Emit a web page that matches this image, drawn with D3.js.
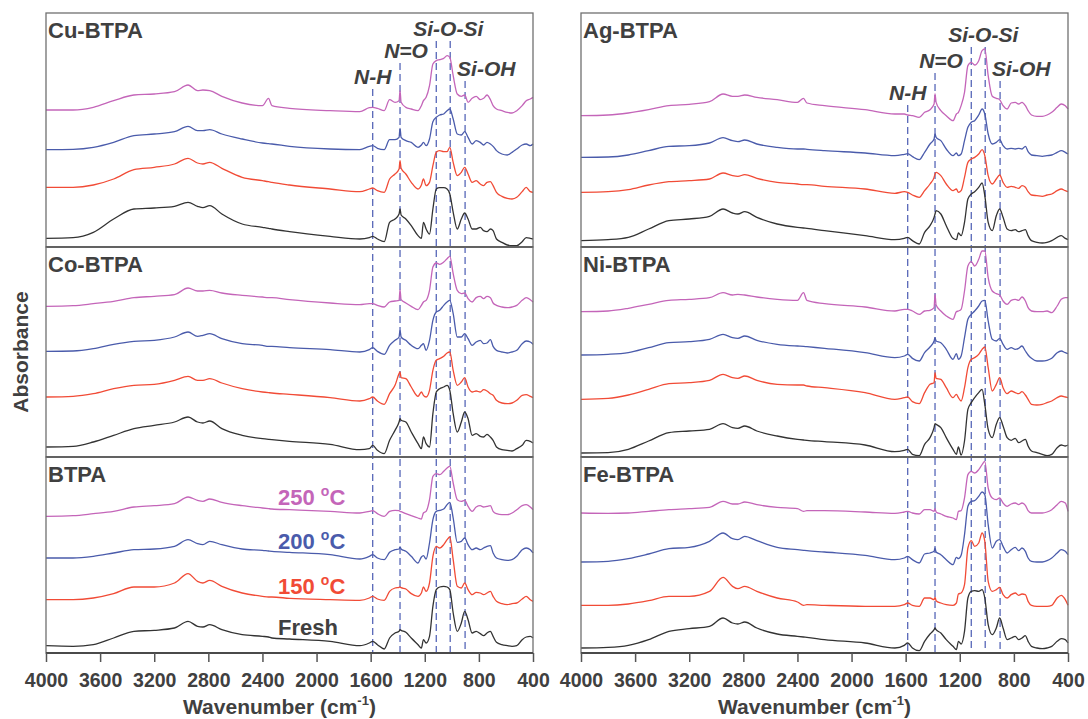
<!DOCTYPE html>
<html>
<head>
<meta charset="utf-8">
<script src="https://cdn.jsdelivr.net/npm/d3@7"></script>
<style>
  body { margin: 0; background: #fff; }
  svg { display: block; font-family: "Liberation Sans", Arial, sans-serif; }
</style>
</head>
<body>
<svg id="chart" width="1088" height="719"></svg>
<script>
/* Wellenzahlen (cm-1), gemeinsam fuer alle Spektren */
const wavenumbers = [4000, 3800, 3650, 3500, 3350, 3200, 3050, 2950, 2880, 2840,
                     2790, 2700, 2550, 2400, 2355, 2330, 2200, 1900, 1680, 1610,
                     1585, 1550, 1500, 1460, 1420, 1390, 1383, 1375, 1340, 1300,
                     1250, 1225, 1210, 1190, 1165, 1140, 1115, 1090, 1060, 1035,
                     1015, 990, 960, 930, 905, 880, 850, 820, 790, 765,
                     740, 715, 695, 670, 630, 590, 555, 520, 480, 450,
                     420, 400];

/* Absorbance (a.u., gestapelt) */
const cuFresh = [26,28,44,84,114,117,122,134,122,118, 124,99,69,59,56,54,46,32,24,28, 32,24,16,74,84,99,114,96,84,64, 34,26,74,54,39,114,174,178,178,174, 159,104,54,84,102,84,54,54,59,49, 46,54,49,24,14,6,4,4,16,28, 26,24];
const cu150   = [179,179,186,204,232,239,249,266,252,249, 254,236,209,199,196,194,186,174,166,174, 177,169,164,204,219,234,259,236,219,194, 174,186,204,184,194,244,284,289,286,286, 299,254,214,224,239,219,194,199,189,184, 194,196,184,164,152,146,144,149,166,179, 166,164];
const cu200   = [292,293,299,314,334,339,346,362,349,349, 352,339,324,312,310,309,302,294,292,302, 304,296,292,322,322,329,356,329,319,314, 299,306,314,304,324,376,389,396,399,409, 414,384,339,336,346,329,309,319,314,306, 314,309,302,289,279,276,284,294,306,309, 304,309];
const cu250   = [411,411,419,439,456,459,466,486,469,471, 469,452,432,424,446,424,416,409,406,418, 419,416,409,442,434,439,469,434,419,414, 409,424,439,449,484,549,559,562,566,574, 569,514,459,452,456,434,446,452,442,446, 456,442,424,414,409,404,402,409,424,439, 444,449];

const coFresh = [30,32,45,65,85,95,105,120,105,102, 108,85,65,55,53,52,47,38,22,25, 35,20,10,50,80,105,115,110,105,75, 40,25,60,40,30,130,195,205,210,215, 200,130,75,105,135,115,65,70,62,60, 68,60,50,30,22,20,18,25,35,50, 47,42];
const co150   = [180,182,190,205,215,218,230,242,230,230, 235,222,205,195,193,192,188,178,168,175, 180,168,158,190,215,250,255,238,235,210, 182,195,185,180,200,260,290,295,302,312, 315,260,215,225,238,210,195,198,195,202, 198,190,185,170,162,160,162,170,185,187, 182,178];
const co200   = [317,318,325,338,347,350,360,375,362,365, 370,355,340,335,332,332,328,322,315,322, 328,317,308,335,350,360,380,360,350,335, 325,335,340,320,350,410,435,440,455,465, 470,430,360,360,370,355,335,345,350,340, 342,352,332,320,315,312,315,320,340,348, 345,338];
const co250   = [452,454,460,467,478,482,487,507,498,498, 500,492,485,480,478,478,472,462,457,460, 460,455,450,465,468,470,502,472,462,452, 442,455,465,470,500,570,582,578,585,595, 602,550,500,490,492,475,465,478,482,475, 482,478,462,455,450,448,450,455,470,478, 472,465];

const btFresh = [22,20,25,45,65,68,75,95,80,78, 85,70,55,50,48,45,42,35,22,30, 35,25,12,45,60,65,70,68,62,45, 25,15,40,30,50,140,190,198,200,198, 190,120,65,90,125,100,60,65,58,52, 60,65,50,32,25,22,20,22,40,48, 50,45];
const bt150   = [160,160,165,178,198,198,210,238,215,210, 218,200,180,170,168,168,164,160,158,165, 170,162,158,185,195,197,198,196,192,178, 170,180,198,185,210,290,320,315,325,340, 348,280,200,195,210,190,175,182,180,175, 180,185,170,155,148,145,148,150,162,170, 160,155];
const bt200   = [285,285,290,300,310,312,320,340,328,325, 335,325,312,308,306,305,302,295,282,290, 295,285,280,302,310,312,318,312,305,290, 270,288,292,282,330,400,425,428,432,445, 452,405,332,335,345,325,310,315,310,315, 320,322,300,285,280,278,280,290,310,315, 310,300];
const bt250   = [410,412,418,425,438,442,448,468,458,455, 462,452,442,435,433,432,430,425,420,425, 427,418,410,425,428,427,425,424,418,412, 405,402,420,425,460,530,538,535,545,555, 560,510,460,455,458,440,425,438,442,438, 440,442,425,418,415,415,420,430,442,445, 438,430];

const agFresh = [19,22,29,54,79,84,92,114,102,99, 106,89,69,59,57,56,49,34,22,26, 29,19,9,44,64,89,99,109,99,64, 26,22,42,34,74,144,159,166,179,192, 154,74,49,94,114,89,54,49,52,46, 49,52,34,19,14,12,14,19,29,34, 26,22];
const ag150   = [164,166,172,186,196,199,204,222,214,212, 217,206,194,189,187,187,182,174,161,166, 164,156,149,169,189,209,219,224,214,189, 169,174,164,169,209,254,264,269,279,292, 274,214,189,204,216,194,179,182,179,176, 184,179,166,156,154,152,156,159,169,174, 169,166];
const ag200   = [269,270,276,289,302,304,312,328,319,316, 321,309,299,294,294,293,289,282,274,278, 280,271,262,284,309,324,339,329,319,294, 274,282,274,279,319,359,374,379,396,414, 399,339,309,314,322,304,294,296,294,296, 294,302,286,276,274,272,274,276,284,289, 284,279];
const ag250   = [394,396,402,412,424,428,436,459,452,452, 456,449,442,434,446,432,424,412,399,399, 396,394,389,404,412,429,459,434,409,394, 379,399,404,424,464,544,554,546,559,589, 594,514,452,446,442,424,414,432,434,429, 434,424,409,396,392,392,396,404,419,429, 424,414];

const niFresh = [12,13,23,48,73,78,83,100,88,86, 93,78,63,53,51,50,46,36,16,20, 23,8,4,38,58,88,100,98,88,58, 23,8,30,6,48,143,163,178,193,203, 158,83,58,98,118,93,58,50,56,43, 48,53,33,18,13,8,4,8,28,36, 33,36];
const ni150   = [173,176,186,203,220,223,230,248,238,236, 243,230,218,216,216,213,208,193,173,178, 180,166,160,193,218,223,253,236,233,208, 178,188,178,168,208,268,293,298,308,323, 330,268,198,218,238,208,190,198,193,190, 196,186,173,158,156,158,163,168,178,183, 180,178];
const ni200   = [306,308,313,328,343,346,353,368,358,356, 363,350,338,333,332,331,326,313,298,303, 308,296,288,313,330,348,358,348,343,323, 293,310,293,303,358,413,428,438,453,468, 470,408,353,348,356,338,323,328,323,326, 333,318,306,296,288,288,290,296,313,318, 313,310];
const ni250   = [436,438,446,458,470,473,478,493,486,488, 486,480,473,470,493,470,460,450,438,443, 443,438,428,438,440,448,488,456,438,423, 413,436,438,443,498,573,586,573,593,618, 618,538,498,490,486,468,458,470,473,470, 480,468,448,438,436,436,438,433,453,473, 478,478];

const feFresh = [15,17,23,40,65,73,80,105,90,87, 93,75,57,50,48,47,40,30,15,23, 30,15,7,35,57,70,75,70,60,40, 20,10,35,27,65,165,185,187,185,190, 165,85,55,75,105,75,40,45,50,40, 45,52,35,20,15,13,15,20,35,43, 40,30];
const fe150   = [143,143,147,157,170,170,185,227,200,193, 200,185,165,153,143,145,143,140,140,145, 150,143,140,165,165,160,167,157,150,145, 143,150,177,180,205,315,337,320,330,360, 335,215,185,190,197,175,165,175,180,173, 177,175,155,143,140,140,140,143,165,173, 160,143];
const fe200   = [273,275,283,297,313,317,335,360,343,340, 350,337,317,310,308,307,303,293,280,285, 290,280,270,297,300,305,315,303,295,280, 265,287,283,293,355,440,455,457,470,483, 475,385,315,335,340,320,300,310,317,307, 315,305,285,275,273,273,277,285,300,310, 305,295];
const fe250   = [420,419,420,425,430,433,437,455,447,447, 453,445,437,433,425,427,427,423,419,423, 425,420,417,430,430,425,433,423,417,410, 405,400,425,427,465,535,545,540,550,565, 575,495,465,460,465,450,440,447,450,445, 450,443,427,420,420,420,423,430,445,455, 450,425];

const sampleNames  = ["Cu-BTPA", "Co-BTPA", "BTPA", "Ag-BTPA", "Ni-BTPA", "Fe-BTPA"];
const sampleSeries = [[cuFresh, cu150, cu200, cu250], [coFresh, co150, co200, co250], [btFresh, bt150, bt200, bt250],
                      [agFresh, ag150, ag200, ag250], [niFresh, ni150, ni200, ni250], [feFresh, fe150, fe200, fe250]];
const seriesNames  = ["Fresh", "150", "200", "250"];

const bandNames = ["N-H", "N=O", "Si-O-Si", "Si-OH"];
const bandWns   = [[1585], [1383], [1115, 1012], [902]];

const xTicks = [4000, 3600, 3200, 2800, 2400, 2000, 1600, 1200, 800, 400];

/* Layout */
const svg        = d3.select("#chart");
const colX       = [[46, 533], [581, 1068]];
const rowY       = [[13, 247], [247, 457], [457, 653]];
const auPerPx    = 3;
const colors     = ["#333333", "#f14b36", "#4a5bab", "#c465b9"];
const textColor  = "#404040";
const dashColor  = "#5767b8";
const labelWn    = 2285;

// Beschriftungshoehe der Banden je Spalte (Grundlinie in px)
const bandLabelY  = [[84, 58, 36, 76], [100, 68, 42, 76]];
const bandLabelDx = [0, 6, 5, -8];
const bandAnchor  = ["middle", "middle", "middle", "start"];

const xScales = colX.map(c => d3.scaleLinear().domain([4000, 400]).range(c));

/* Banden (gestrichelt) */
colX.forEach((c, ci) => {
  const x = xScales[ci];
  bandNames.forEach((name, bi) => {
    const top = bandLabelY[ci][bi] + 5;
    bandWns[bi].forEach(wn => {
      svg.append("line")
        .attr("x1", x(wn)).attr("x2", x(wn))
        .attr("y1", top).attr("y2", rowY[2][1])
        .attr("stroke", dashColor)
        .attr("stroke-width", 1.3)
        .attr("stroke-dasharray", "7,4");
    });
    const cx = d3.mean(bandWns[bi], wn => x(wn)) + bandLabelDx[bi];
    svg.append("text")
      .attr("x", cx).attr("y", bandLabelY[ci][bi])
      .attr("text-anchor", bandAnchor[bi])
      .attr("font-size", 21).attr("font-weight", "bold").attr("font-style", "italic")
      .attr("fill", textColor)
      .text(name);
  });
});

/* Panels */
sampleNames.forEach((name, pi) => {
  const ci = Math.floor(pi / 3), ri = pi % 3;
  const x = xScales[ci];
  const [y0, y1] = rowY[ri];
  const y = d3.scaleLinear().domain([0, (y1 - y0) * auPerPx]).range([y1, y0]);

  const line = d3.line()
    .x((d, i) => x(wavenumbers[i]))
    .y(d => y(d))
    .curve(d3.curveMonotoneX);

  svg.append("g").selectAll("path")
    .data(sampleSeries[pi])
    .enter().append("path")
      .attr("d", line)
      .attr("fill", "none")
      .attr("stroke", (d, i) => colors[i])
      .attr("stroke-width", 1.3)
      .attr("stroke-linejoin", "round");

  svg.append("rect")
    .attr("x", colX[ci][0]).attr("y", y0)
    .attr("width", colX[ci][1] - colX[ci][0]).attr("height", y1 - y0)
    .attr("fill", "none")
    .attr("stroke", "#707070")
    .attr("stroke-width", 1.3);

  svg.append("line")
    .attr("x1", colX[ci][0]).attr("x2", colX[ci][1])
    .attr("y1", y1).attr("y2", y1)
    .attr("stroke", "#4a4a4a")
    .attr("stroke-width", 2);

  svg.append("text")
    .attr("x", colX[ci][0] + 2).attr("y", y0 + 25)
    .attr("font-size", 22).attr("font-weight", "bold")
    .attr("fill", textColor)
    .text(name);

  // Temperaturbeschriftung nur im BTPA-Panel
  if (name === "BTPA") {
    const idx = wavenumbers.indexOf(1900);
    sampleSeries[pi].forEach((s, si) => {
      const t = svg.append("text")
        .attr("x", x(labelWn)).attr("y", y(s[idx]) - 6)
        .attr("font-size", 22).attr("font-weight", "bold")
        .attr("fill", si === 0 ? textColor : colors[si]);
      if (si === 0) {
        t.text(seriesNames[si]);
      } else {
        t.append("tspan").text(seriesNames[si] + " ");
        t.append("tspan").attr("font-size", 14).attr("dy", -9).text("o");
        t.append("tspan").attr("dy", 9).text("C");
      }
    });
  }
});

/* Achsen */
xScales.forEach((x, ci) => {
  const g = svg.append("g")
    .attr("transform", "translate(0," + rowY[2][1] + ")")
    .call(d3.axisBottom(x).tickValues(xTicks).tickSize(9).tickPadding(11).tickFormat(d3.format("d")));
  g.select(".domain").remove();
  g.selectAll(".tick line").attr("stroke", "#555").attr("stroke-width", 1.5);
  g.selectAll(".tick text")
    .attr("font-size", 19.5).attr("font-weight", "bold")
    .attr("font-family", "Liberation Sans, Arial, sans-serif")
    .attr("fill", textColor);

  const title = svg.append("text")
    .attr("x", (colX[ci][0] + colX[ci][1]) / 2 - 10).attr("y", 714)
    .attr("text-anchor", "middle")
    .attr("font-size", 21).attr("font-weight", "bold")
    .attr("fill", textColor);
  title.append("tspan").text("Wavenumber (cm");
  title.append("tspan").attr("font-size", 13).attr("dy", -9).text("-1");
  title.append("tspan").attr("dy", 9).text(")");
});

svg.append("text")
  .attr("transform", "translate(28,352) rotate(-90)")
  .attr("text-anchor", "middle")
  .attr("font-size", 21).attr("font-weight", "bold")
  .attr("fill", textColor)
  .text("Absorbance");
</script>
</body>
</html>
